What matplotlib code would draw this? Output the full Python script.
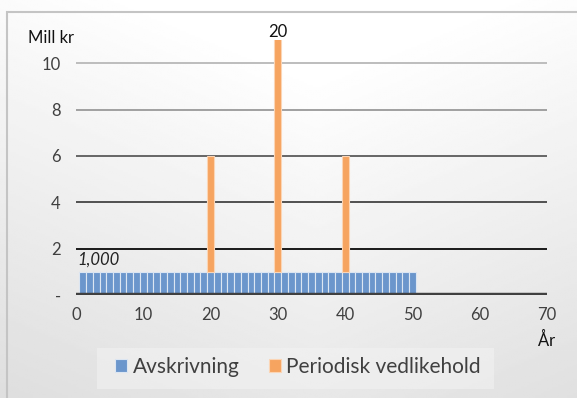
import numpy as np
import matplotlib
matplotlib.use("Agg")
import matplotlib.pyplot as plt
from matplotlib.patches import Rectangle

plt.rcParams['font.family'] = ['Lato', 'DejaVu Sans']

# yearly depreciation (mill kr) and periodic maintenance on top of it
years = list(range(1, 51))
avskrivning = [1.0] * 50
vedlikehold_years = [20, 30, 40]
vedlikehold = [5, 20, 5]
first_label = "1,000"

yticks = [0, 2, 4, 6, 8, 10]
ytick_labels = ["-", "2", "4", "6", "8", "10"]
xticks = [0, 10, 20, 30, 40, 50, 60, 70]

W, H = 577, 398
fig = plt.figure(figsize=(W / 100, H / 100), dpi=100)

# soft gradient behind the whole chart, light at the top
bg = fig.add_axes([0, 0, 1, 1], zorder=-10)
gx, gy = np.meshgrid(np.linspace(0, 1, 200), np.linspace(0, 1, 200))
grad = 0.86 + 0.14 * np.clip(0.8 * gy + 0.35 * (1 - np.abs(gx - 0.55) * 1.4), 0, 1)
bg.imshow(grad, cmap="gray", vmin=0, vmax=1, aspect="auto", extent=[0, 1, 0, 1], origin="lower")
bg.add_patch(Rectangle((7 / W, -0.05), 1.1, 1 - 12 / H + 0.05, fill=False,
                       edgecolor="#c4c4c4", lw=1.5))
# legend backdrop
bg.add_patch(Rectangle((97 / W, 1 - 389 / H), 397 / W, 41 / H, facecolor="#f2f2f2",
                       edgecolor="none", alpha=0.6))
bg.set_xlim(0, 1)
bg.set_ylim(0, 1)
bg.axis("off")

ax = fig.add_axes([0.1317, 0.2588, 0.8163, 0.6407])
ax.patch.set_alpha(0)

# gridlines get darker towards the bottom
grid_cols = {2: "#1a1a1a", 4: "#505050", 6: "#666666", 8: "#a0a0a0", 10: "#bdbdbd"}
for yv, c in grid_cols.items():
    ax.plot([0, 70], [yv, yv], color=c, lw=1.4, zorder=1)
ax.plot([0, 70], [0, 0], color="#404040", lw=3.2, zorder=4, solid_capstyle="butt")

ax.bar(years, avskrivning, width=1.0, color="#6b96cc", edgecolor="#dce6f2", lw=0.8,
       label="Avskrivning", zorder=2)
base = [avskrivning[y - 1] for y in vedlikehold_years]
ax.bar(vedlikehold_years, vedlikehold, bottom=base, width=1.0, color="#f6a460",
       edgecolor="#fbd5b5", lw=0.8, label="Periodisk vedlikehold", zorder=2)

ax.set_xlim(0, 70)
ax.set_ylim(0, 11)
ax.set_xticks(xticks)
ax.set_yticks(yticks)
ax.set_yticklabels(ytick_labels)
ax.tick_params(length=0, labelsize=12, colors="#404040", pad=9)
ax.tick_params(axis="y", pad=11)
for s in ax.spines.values():
    s.set_visible(False)

# data labels
ax.text(0.2, avskrivning[0] + 0.3, first_label, fontsize=12, style="italic", color="#222222")
ax.text(vedlikehold_years[1], 11.0, str(vedlikehold[1]), fontsize=12, ha="center", va="bottom",
        color="#111111", clip_on=False)

fig.text(0.048, 0.905, "Mill kr", fontsize=12, color="#111111", va="center")
fig.text(0.948, 0.145, "År", fontsize=12, color="#111111", ha="center", va="center")

leg = fig.legend(loc="center", bbox_to_anchor=(298 / W, 1 - 367 / H), ncol=2, frameon=False,
                 fontsize=15, handlelength=0.6, handleheight=0.6, handletextpad=0.25,
                 columnspacing=1.4, borderpad=0)
for t in leg.get_texts():
    t.set_color("#404040")

fig.savefig("out.png", dpi=100)
